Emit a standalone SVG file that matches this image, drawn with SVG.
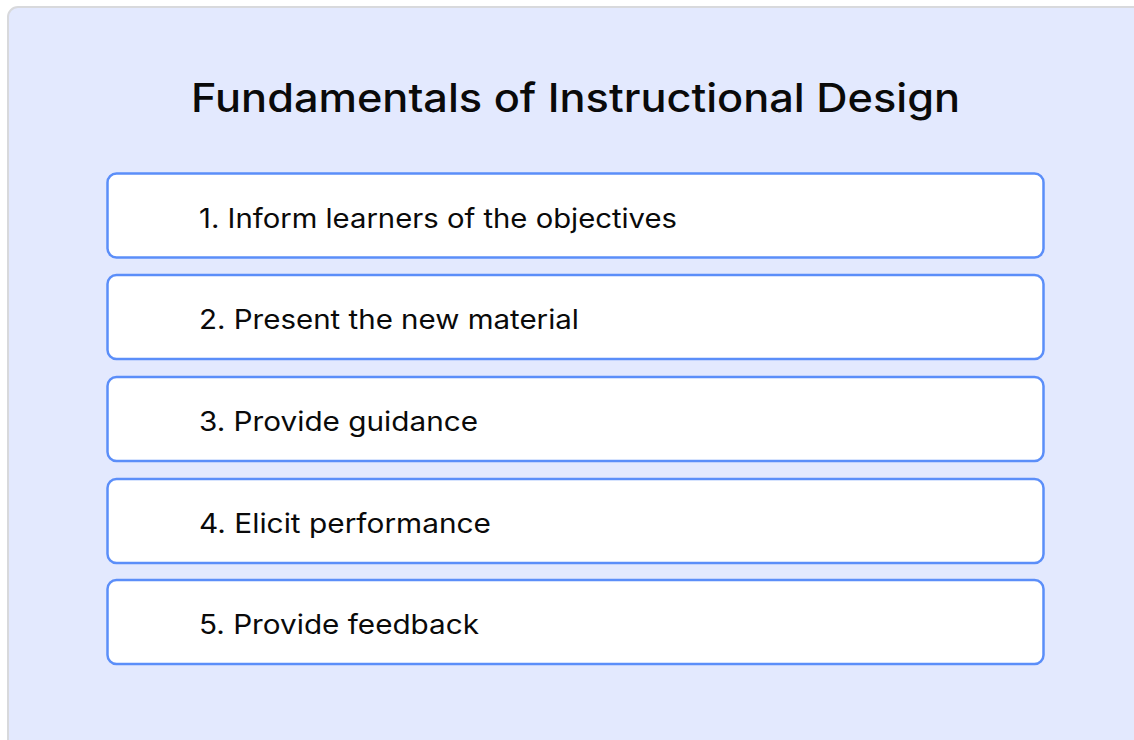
<svg xmlns="http://www.w3.org/2000/svg" width="1134" height="740" viewBox="0 0 1134 740">
<style>
.panel{fill:#e3e9fe;stroke:#d8d9dc;stroke-width:2}
.box{fill:#ffffff;stroke:#5b8ef9;stroke-width:2.5}
.title{font-family:Inter,"Noto Sans",sans-serif;font-size:39px;font-weight:500;fill:#0a0a0a}
.lbl{font-family:Inter,"Noto Sans",sans-serif;font-size:26.5px;font-weight:400;fill:#0a0a0a}
</style>
<rect width="1134" height="740" fill="#ffffff"/>
<rect class="panel" x="8" y="7" width="1140" height="750" rx="10"/>
<text class="title" x="191" y="112" textLength="769" lengthAdjust="spacingAndGlyphs">Fundamentals of Instructional Design</text>
<g id="step1"><rect class="box" x="107.5" y="173.5" width="936" height="84" rx="9"/><text class="lbl" x="199" y="228" textLength="478" lengthAdjust="spacingAndGlyphs">1. Inform learners of the objectives</text></g>
<g id="step2"><rect class="box" x="107.5" y="275" width="936" height="84" rx="9"/><text class="lbl" x="199" y="329" textLength="380" lengthAdjust="spacingAndGlyphs">2. Present the new material</text></g>
<g id="step3"><rect class="box" x="107.5" y="377" width="936" height="84" rx="9"/><text class="lbl" x="199" y="431" textLength="279" lengthAdjust="spacingAndGlyphs">3. Provide guidance</text></g>
<g id="step4"><rect class="box" x="107.5" y="479" width="936" height="84" rx="9"/><text class="lbl" x="199" y="533" textLength="292" lengthAdjust="spacingAndGlyphs">4. Elicit performance</text></g>
<g id="step5"><rect class="box" x="107.5" y="580" width="936" height="84" rx="9"/><text class="lbl" x="199" y="634" textLength="280" lengthAdjust="spacingAndGlyphs">5. Provide feedback</text></g>
<g id="connectors"></g>
</svg>
